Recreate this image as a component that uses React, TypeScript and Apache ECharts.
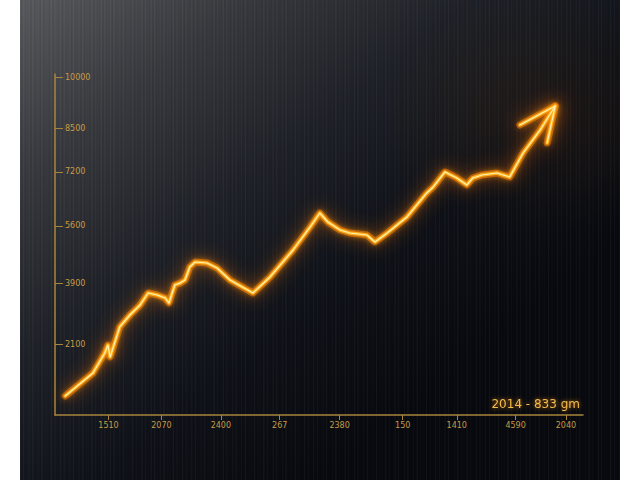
import React, { useEffect, useRef } from "react";
import * as echarts from "echarts";

// x positions (0..100 scale) and values of the trend line
const lineX = [1.9, 7.1, 9.3, 9.9, 10.3, 12.1, 14.0, 15.9, 17.4, 19.1, 20.6, 21.3, 22.4, 23.4, 24.3, 25.2, 26.2, 28.4, 30.3, 32.7, 37.0, 40.2, 44.5, 47.7, 49.5, 51.0, 53.3, 55.1, 58.3, 59.8, 62.1, 65.8, 69.5, 70.7, 72.9, 75.1, 77.0, 78.1, 79.8, 82.6, 85.0, 87.5, 90.7, 93.5];
const lineY = [563, 1244, 1836, 2073, 1718, 2607, 2962, 3258, 3614, 3554, 3466, 3317, 3851, 3910, 3999, 4384, 4532, 4502, 4354, 3999, 3614, 4088, 4887, 5569, 5983, 5717, 5480, 5391, 5332, 5124, 5391, 5865, 6576, 6754, 7198, 7020, 6813, 7020, 7109, 7168, 7050, 7760, 8442, 9152];

// arrowhead (wing, tip, wing)
const arrowX = [86.9, 93.5, 92.0];
const arrowY = [8590, 9152, 8057];

// axis ticks and labels
const yTickValues = [2100, 3900, 5600, 7200, 8500, 10000];
const yTickLabels = ["2100", "3900", "5600", "7200", "8500", "10000"];
const xTickValues = [10, 19.9, 31, 42, 53.2, 65, 75.1, 86.1, 95.5];
const xTickLabels = ["1510", "2070", "2400", "267", "2380", "150", "1410", "4590", "2040"];

const noteText = "2014 - 833 gm";

function stripeTexture(): string {
  const c = document.createElement("canvas");
  c.width = 600;
  c.height = 4;
  const ctx = c.getContext("2d")!;
  for (let x = 0; x < 600; x++) {
    const a = 0.5 + 0.5 * Math.sin(x * 1.7) * Math.sin(x * 0.31 + 1.3);
    ctx.fillStyle = a > 0.55 ? `rgba(255,255,255,${(a - 0.55) * 0.09})` : `rgba(0,0,0,${(0.55 - a) * 0.12})`;
    ctx.fillRect(x, 0, 1, 4);
  }
  return c.toDataURL();
}

export default function App() {
  const ref = useRef<HTMLDivElement>(null);
  useEffect(() => {
    document.body.style.margin = "0";
    const chart = echarts.init(ref.current!, null, { renderer: "svg" });
    const lineData = lineX.map((x, i) => [x, lineY[i]]);
    const arrowData = arrowX.map((x, i) => [x, arrowY[i]]);
    const gold = "#a8843c";
    const labelColor = "#c99a45";
    const glowSeries = (name: string, data: number[][]) => [
      {
        name: name + "-halo",
        type: "line",
        data,
        showSymbol: false,
        symbol: "none",
        lineStyle: {
          width: 7,
          color: "rgba(255,120,0,0.55)",
          shadowBlur: 18,
          shadowColor: "rgba(255,110,0,0.95)",
          cap: "round",
          join: "round",
        },
        z: 3,
      },
      {
        name: name + "-tube",
        type: "line",
        data,
        showSymbol: false,
        symbol: "none",
        lineStyle: {
          width: 3.5,
          color: "#ffb020",
          shadowBlur: 6,
          shadowColor: "rgba(255,150,0,1)",
          cap: "round",
          join: "round",
        },
        z: 4,
      },
      {
        name: name + "-core",
        type: "line",
        data,
        showSymbol: false,
        symbol: "none",
        lineStyle: { width: 1.2, color: "#fff3b0", cap: "round", join: "round" },
        z: 5,
      },
    ];
    chart.setOption({
      animation: false,
      backgroundColor: "#ffffff",
      graphic: [
        {
          type: "rect",
          z: -10,
          silent: true,
          shape: { x: 20, y: 0, width: 600, height: 480 },
          style: {
            fill: new echarts.graphic.LinearGradient(0, 0, 0.75, 0.75, [
              { offset: 0, color: "#57595d" },
              { offset: 0.25, color: "#37393e" },
              { offset: 0.5, color: "#1e2127" },
              { offset: 0.75, color: "#0e1117" },
              { offset: 1, color: "#07090e" },
            ]),
          },
        },
        {
          type: "rect",
          z: -9,
          silent: true,
          shape: { x: 20, y: 0, width: 600, height: 480 },
          style: {
            fill: { image: stripeTexture(), repeat: "repeat" },
          },
        },
        {
          type: "rect",
          z: -8,
          silent: true,
          shape: { x: 20, y: 0, width: 600, height: 480 },
          style: {
            fill: new echarts.graphic.RadialGradient(0.86, 0.24, 0.25, [
              { offset: 0, color: "rgba(110,55,10,0.16)" },
              { offset: 1, color: "rgba(110,55,10,0)" },
            ]),
          },
        },
      ],
      title: {
        text: noteText,
        right: 55,
        top: 393,
        textStyle: {
          color: "#f2bb4c",
          fontSize: 12,
          fontWeight: "normal",
          fontFamily: "DejaVu Sans",
          textShadowColor: "rgba(255,140,0,0.8)",
          textShadowBlur: 4,
        },
      },
      grid: { left: 55, right: 57, top: 74, bottom: 65 },
      xAxis: {
        type: "value",
        min: 0,
        max: 98.7,
        axisLine: { show: true, lineStyle: { color: gold, width: 1.5 } },
        axisTick: { show: true, customValues: xTickValues, length: 5, lineStyle: { color: gold } },
        axisLabel: {
          customValues: xTickValues,
          color: labelColor,
          fontSize: 8,
          fontFamily: "DejaVu Sans",
          margin: 6,
          formatter: (v: number) => {
            const i = xTickValues.indexOf(v);
            return i >= 0 ? xTickLabels[i] : "";
          },
        },
        splitLine: { show: false },
      },
      yAxis: {
        type: "value",
        min: 0,
        max: 10100,
        axisLine: { show: true, lineStyle: { color: gold, width: 1.5 } },
        axisTick: { show: true, inside: true, customValues: yTickValues, length: 8, lineStyle: { color: gold } },
        axisLabel: {
          inside: true,
          customValues: yTickValues,
          color: labelColor,
          fontSize: 8,
          fontFamily: "DejaVu Sans",
          margin: 10,
          formatter: (v: number) => {
            const i = yTickValues.indexOf(v);
            return i >= 0 ? yTickLabels[i] : "";
          },
        },
        splitLine: { show: false },
      },
      series: [...glowSeries("trend", lineData), ...glowSeries("arrow", arrowData)],
    });
    return () => chart.dispose();
  }, []);
  return <div ref={ref} style={{ width: 640, height: 480 }} />;
}
